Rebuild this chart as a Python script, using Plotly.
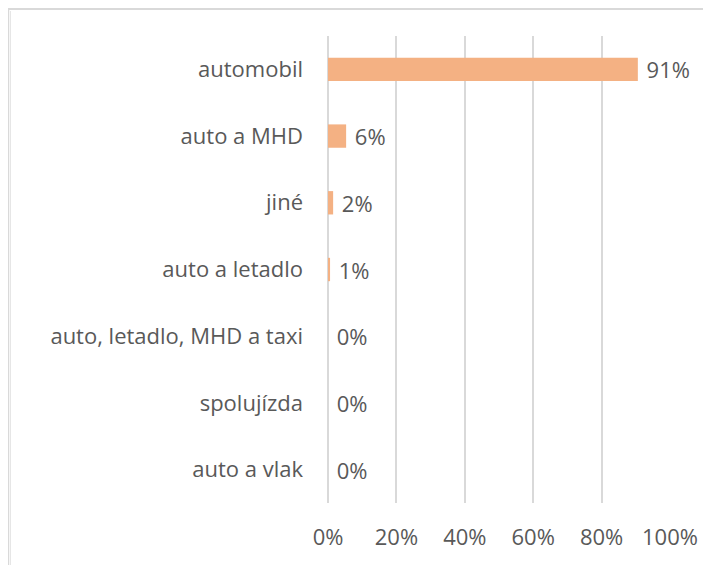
import plotly.graph_objects as go

categories = ["automobil", "auto a MHD", "jiné", "auto a letadlo",
              "auto, letadlo, MHD a taxi", "spolujízda", "auto a vlak"]
values = [90.6, 5.3, 1.5, 0.6, 0.0, 0.0, 0.0]
labels = ["91%", "6%", "2%", "1%", "0%", "0%", "0%"]
tick_vals = [0, 20, 40, 60, 80, 100]
tick_text = ["0%", "20%", "40%", "60%", "80%", "100%"]

FONT = "Open Sans"
FS = 22
TXT = "#595959"
GRID = "#D9D9D9"

# page body has an 8px margin, so the figure is sized to fit the window
W, H = 703, 557
ML, MR, MT, MB = 320, 41, 28, 62

fig = go.Figure(go.Bar(
    y=categories, x=values, orientation="h",
    marker=dict(color="#F4B183", line=dict(width=0)),
    text=labels, texttemplate=" %{text}", textposition="outside",
    constraintext="none", cliponaxis=False,
    textfont=dict(family=FONT, size=FS, color=TXT),
    width=0.35,
))

fig.update_layout(
    width=W, height=H,
    margin=dict(l=ML, r=MR, t=MT, b=MB, pad=0),
    paper_bgcolor="white", plot_bgcolor="white",
    showlegend=False,
    font=dict(family=FONT, size=FS, color=TXT),
    xaxis=dict(range=[0, 100], tickvals=tick_vals, ticktext=tick_text,
               showgrid=True, gridcolor=GRID, gridwidth=1.5,
               zeroline=True, zerolinecolor=GRID, zerolinewidth=1.5,
               showline=False, ticks="",
               ticklabelstandoff=19,
               tickfont=dict(family=FONT, size=FS, color=TXT)),
    yaxis=dict(categoryorder="array", categoryarray=categories[::-1],
               showgrid=False, zeroline=False, showline=False,
               ticks="", ticklabelstandoff=24,
               tickfont=dict(family=FONT, size=FS, color=TXT)),
)

pw, ph = W - ML - MR, H - MT - MB
def px(x):
    return (x - ML) / pw
def py(y):
    return (H - MB - y) / ph

# frame lines at the outer edge
fig.add_shape(type="line", xref="paper", yref="paper",
              x0=px(0), x1=px(W), y0=py(1), y1=py(1),
              line=dict(color=GRID, width=2))
fig.add_shape(type="line", xref="paper", yref="paper",
              x0=px(0.5), x1=px(0.5), y0=py(1), y1=py(H),
              line=dict(color=GRID, width=1.5))
fig.add_shape(type="line", xref="paper", yref="paper",
              x0=px(2.5), x1=px(2.5), y0=py(3), y1=py(H),
              line=dict(color="#E6E6E6", width=1))

fig.write_html("out.html")
